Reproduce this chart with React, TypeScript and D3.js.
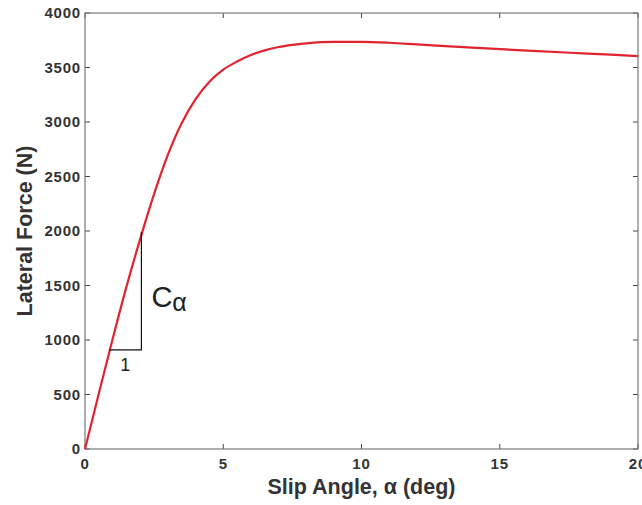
import React from "react";
import * as d3 from "d3";

const slipAngles = [0, 0.5, 1, 1.5, 2, 2.5, 3, 3.5, 4, 4.5, 5, 5.5, 6, 6.5, 7, 7.5, 8, 9, 10, 11, 12, 14, 16, 18, 20];
const lateralForces = [0, 510, 1010, 1490, 1930, 2340, 2700, 2990, 3210, 3370, 3480, 3555, 3615, 3657, 3688, 3708, 3722, 3735, 3735, 3727, 3712, 3682, 3655, 3630, 3605];
const xTicks = [0, 5, 10, 15, 20];
const yTicks = [0, 500, 1000, 1500, 2000, 2500, 3000, 3500, 4000];
const triangleAlpha = [0.88, 2.04];
const triangleForce = [910, 1990];

const W = 642;
const H = 505;
const M = { left: 85, right: 4, top: 13, bottom: 56 };

export default function App() {
  const x = d3.scaleLinear().domain([0, 20]).range([M.left, W - M.right]);
  const y = d3.scaleLinear().domain([0, 4000]).range([H - M.bottom, M.top]);
  const data = slipAngles.map((a, i) => [a, lateralForces[i]] as [number, number]);
  const line = d3
    .line<[number, number]>()
    .x((d) => x(d[0]))
    .y((d) => y(d[1]))
    .curve(d3.curveMonotoneX);
  const x0 = x(0), x1 = x(20), y0 = y(0), y1 = y(4000);
  const tl = 5;
  const axisColor = "#7a7a7a";
  const textColor = "#333";
  const font = "Liberation Sans, Arial, sans-serif";
  return (
    <svg
      width={W}
      height={H}
      style={{ position: "absolute", left: 0, top: 0, background: "#fff" }}
      fontFamily={font}
    >
      <rect x={0} y={0} width={W} height={H} fill="#fff" />
      {xTicks.map((t) => (
        <g key={"xt" + t}>
          <line x1={x(t)} x2={x(t)} y1={y0} y2={y0 - tl} stroke="#444" />
          <line x1={x(t)} x2={x(t)} y1={y1} y2={y1 + tl} stroke="#444" />
          <text
            x={x(t)}
            y={y0 + 20}
            textAnchor="middle"
            fontSize={15}
            letterSpacing={0.8}
            fontWeight="bold"
            fill={textColor}
          >
            {t}
          </text>
        </g>
      ))}
      {yTicks.map((t) => (
        <g key={"yt" + t}>
          <line x1={x0} x2={x0 + tl} y1={y(t)} y2={y(t)} stroke="#444" />
          <line x1={x1} x2={x1 - tl} y1={y(t)} y2={y(t)} stroke="#444" />
          <text
            x={x0 - 4}
            y={y(t) + 5}
            textAnchor="end"
            fontSize={15}
            letterSpacing={0.8}
            fontWeight="bold"
            fill={textColor}
          >
            {t}
          </text>
        </g>
      ))}
      <rect
        x={x0}
        y={y1}
        width={x1 - x0}
        height={y0 - y1}
        fill="none"
        stroke={axisColor}
        strokeWidth={1.2}
      />
      <path d={line(data) || ""} fill="none" stroke="#e0232e" strokeWidth={2.2} />
      <polyline
        points={`${x(triangleAlpha[0])},${y(triangleForce[0])} ${x(triangleAlpha[1])},${y(
          triangleForce[0]
        )} ${x(triangleAlpha[1])},${y(triangleForce[1])}`}
        fill="none"
        stroke="#111"
        strokeWidth={1.2}
      />
      <text
        x={(x(triangleAlpha[0]) + x(triangleAlpha[1])) / 2}
        y={y(triangleForce[0]) + 21}
        textAnchor="middle"
        fontSize={18}
        fill="#222"
      >
        1
      </text>
      <text
        x={x(triangleAlpha[1]) + 10}
        y={y((triangleForce[0] + triangleForce[1]) / 2) + 16}
        fontSize={29}
        fill="#222"
      >
        C
        <tspan fontSize={25} dy={4}>
          α
        </tspan>
      </text>
      <text
        x={(x0 + x1) / 2}
        y={494}
        textAnchor="middle"
        fontSize={21.5}
        fontWeight="bold"
        fill={textColor}
      >
        Slip Angle, α (deg)
      </text>
      <text
        transform={`translate(32, ${(y0 + y1) / 2}) rotate(-90)`}
        textAnchor="middle"
        fontSize={21.5}
        fontWeight="bold"
        fill={textColor}
      >
        Lateral Force (N)
      </text>
    </svg>
  );
}
